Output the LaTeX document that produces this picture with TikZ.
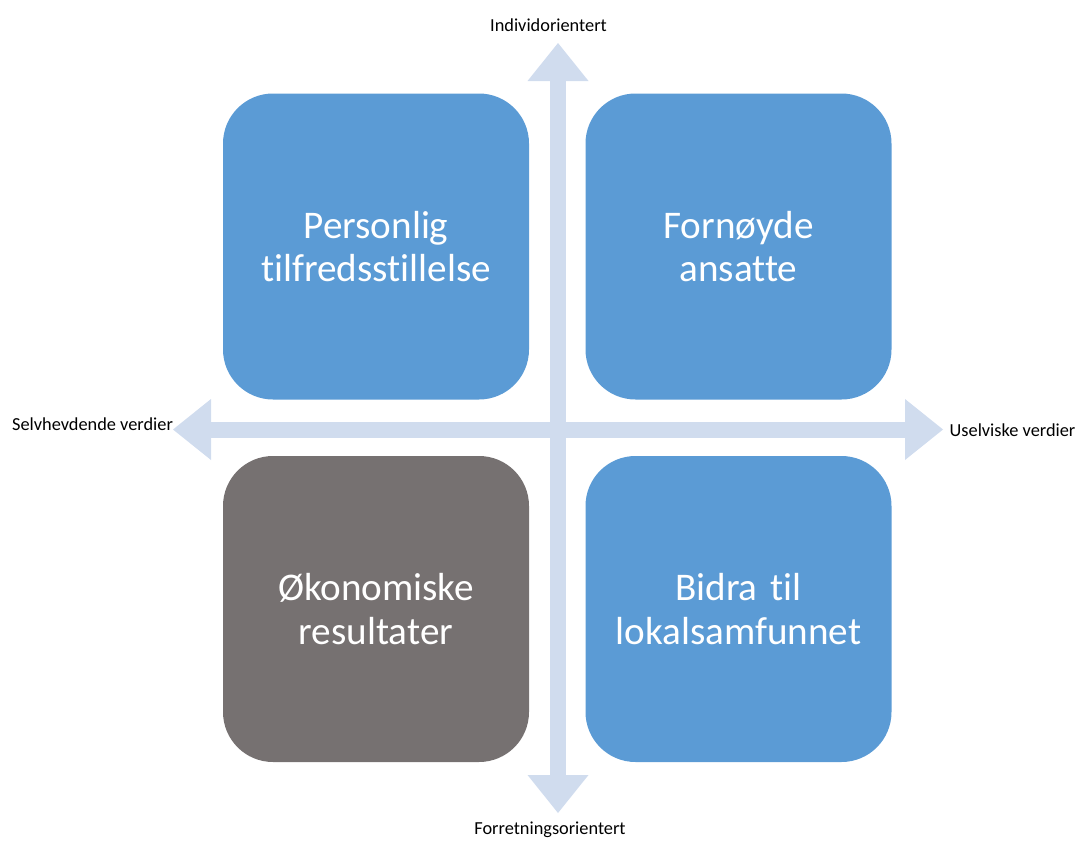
\documentclass[tikz,border=0pt]{standalone}
\usepackage{fontspec}
\setmainfont{Carlito}[Ligatures=NoCommon]
\usetikzlibrary{arrows.meta}
\definecolor{boxblue}{HTML}{5B9BD5}
\definecolor{boxgray}{HTML}{767171}
\definecolor{axisblue}{HTML}{D0DCEE}
\begin{document}
\begin{tikzpicture}[x=0.6pt, y=-0.6pt,
  quad/.style={rounded corners=30pt, minimum width=183.6pt, minimum height=183.6pt,
    text width=170pt, align=center, inner sep=0pt, text=white,
    font=\fontsize{23.5}{26}\selectfont},
  axis/.style={draw=axisblue, line width=9.6pt,
    {Triangle[width=36.6pt, length=22.8pt, line width=0pt]}-{Triangle[width=36.6pt, length=22.8pt, line width=0pt]}},
  lbl/.style={anchor=base, font=\fontsize{11}{13}\selectfont}]
\useasboundingbox (0,0) rectangle (1078,841);
% axes
\coordinate (n) at (558,43);
\coordinate (s) at (558,813);
\coordinate (w) at (173,429.5);
\coordinate (e) at (943,429.5);
\draw[axis] (s) -- (n);
\draw[axis] (w) -- (e);
\node[lbl] (nlbl) at (548.5,31) {Individorientert};
\node[lbl] (slbl) at (550,834) {Forretningsorientert};
\node[lbl] (wlbl) at (92.5,430) {Selvhevdende verdier};
\node[lbl] (elbl) at (1012.5,436) {Uselviske verdier};
% quadrants
\node[quad, fill=boxblue] (pers) at (376,246.5) {Personlig\\tilfredsstillelse};
\node[quad, fill=boxblue] (forn) at (738.5,246.5) {Fornøyde\\ansatte};
\node[quad, fill=boxgray] (okon) at (376,609) {Økonomiske\\resultater};
\node[quad, fill=boxblue] (bidra) at (738.5,609) {Bidra til\\lokalsamfunnet};
\end{tikzpicture}
\end{document}
